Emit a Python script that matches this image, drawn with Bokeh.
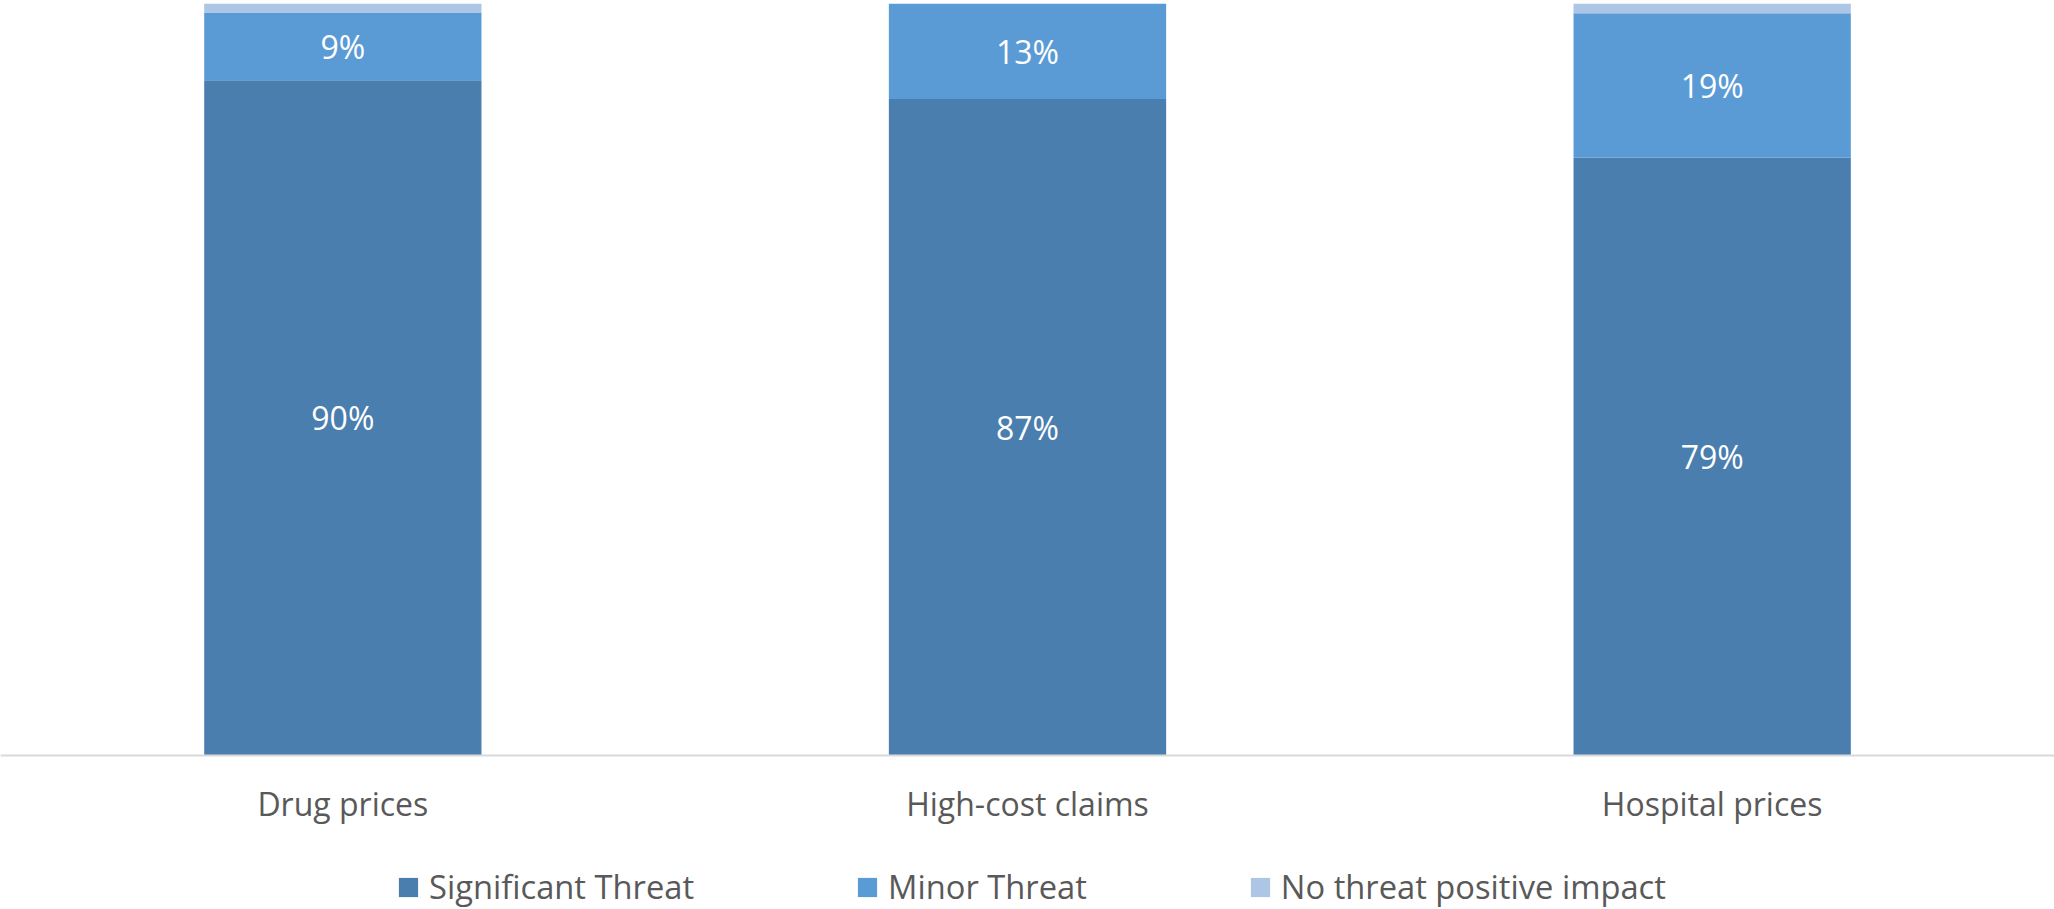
from bokeh.plotting import figure
from bokeh.models import ColumnDataSource, LabelSet, Legend, LegendItem, FactorRange, Span
from bokeh.core.properties import value
from bokeh.embed import file_html
from bokeh.resources import INLINE

categories = ["Drug prices", "High-cost claims", "Hospital prices"]
significant = [89.8, 87.3, 79.5]
minor = [9.0, 12.7, 19.2]
no_threat = [1.2, 0.0, 1.3]
significant_labels = ["90%", "87%", "79%"]
minor_labels = ["9%", "13%", "19%"]
series_names = ["Significant Threat", "Minor Threat", "No threat positive impact"]
colors = ["#4A7EAE", "#5B9BD5", "#ADC6E6"]

FONT = "Open Sans"
TEXT_COLOR = "#595959"

W, H = 2054, 909
TOP = 3
BASE_Y = 755  # pixel row of the zero line
# extend the value range below zero so the frame also holds the labels and legend
y_start = -100.0 * (H - BASE_Y) / (BASE_Y - TOP)

source = ColumnDataSource(dict(
    cat=categories,
    sig=significant,
    minor=minor,
    none=no_threat,
    zero=[0] * len(categories),
    sig_mid=[s / 2 for s in significant],
    minor_mid=[s + m / 2 for s, m in zip(significant, minor)],
    sig_lab=significant_labels,
    minor_lab=minor_labels,
))

p = figure(
    x_range=FactorRange(*categories, range_padding=0),
    y_range=(y_start, 100),
    width=W, height=H,
    output_backend="svg", toolbar_location=None,
    min_border_top=TOP, min_border_left=0, min_border_right=0, min_border_bottom=0,
)
p.outline_line_color = None
p.background_fill_color = "white"
p.border_fill_color = "white"
p.xaxis.visible = False
p.yaxis.visible = False
p.xgrid.grid_line_color = None
p.ygrid.grid_line_color = None

renderers = p.vbar_stack(["sig", "minor", "none"], x="cat", width=0.405, source=source,
                         color=colors, line_color=None)

p.add_layout(Span(location=0, dimension="width", line_color="#D9D9D9", line_width=2))

cat_labels = LabelSet(x="cat", y="zero", text="cat", source=source, y_offset=-48,
                      text_align="center", text_baseline="middle",
                      text_color=TEXT_COLOR, text_font=value(FONT), text_font_size="32px")
p.add_layout(cat_labels)

for ycol, tcol in [("sig_mid", "sig_lab"), ("minor_mid", "minor_lab")]:
    ls = LabelSet(x="cat", y=ycol, text=tcol, source=source,
                  text_align="center", text_baseline="middle",
                  text_color="white", text_font=value(FONT), text_font_size="32px")
    p.add_layout(ls)

legend = Legend(
    items=[LegendItem(label=n, renderers=[r]) for n, r in zip(series_names, renderers)],
    orientation="horizontal", location=(396, 0),
    label_text_font=FONT, label_text_font_size="32.7px", label_text_color=TEXT_COLOR,
    glyph_width=24, glyph_height=24, label_standoff=9, spacing=161,
    border_line_color=None, background_fill_alpha=0, padding=0, margin=0,
)
p.add_layout(legend, "center")

open("out.html", "w").write(file_html(p, INLINE))
